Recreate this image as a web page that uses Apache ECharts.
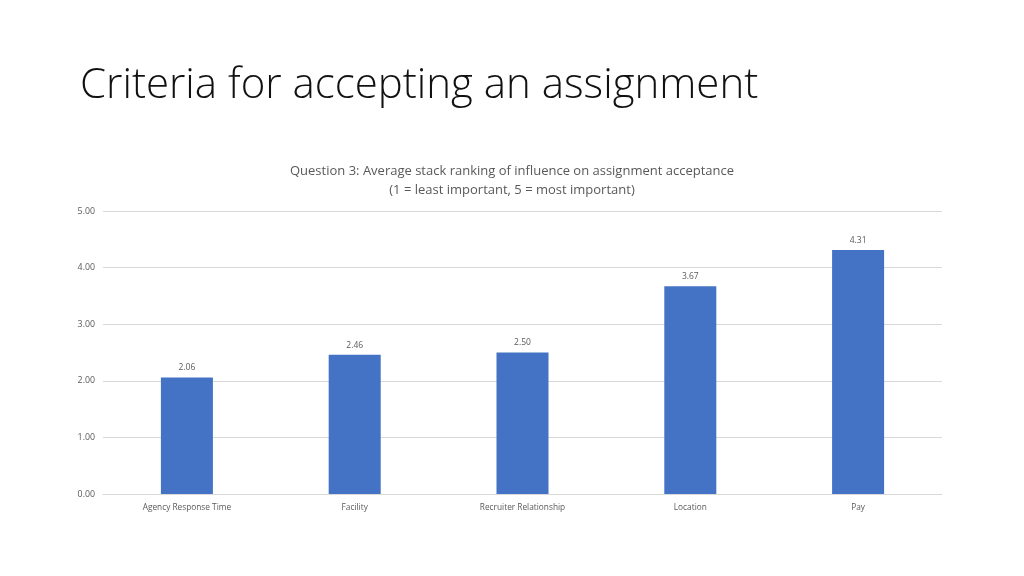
<!DOCTYPE html>
<html>
<head>
<meta charset="utf-8">
<script src="https://cdn.jsdelivr.net/npm/echarts@6/dist/echarts.min.js"></script>
<style>
    html, body { margin: 0; padding: 0; background: #ffffff; }
    #chart { width: 1024px; height: 576px; }
</style>
</head>
<body>
<div id="chart"></div>
<script>
// 分类与数值
const categories = ["Agency Response Time", "Facility", "Recruiter Relationship", "Location", "Pay"];
const averageRanks = [2.06, 2.46, 2.50, 3.67, 4.31];
const slideTitle = "Criteria for accepting an assignment";
const chartTitle = "Question 3: Average stack ranking of influence on assignment acceptance\n(1 = least important, 5 = most important)";

const chart = echarts.init(document.getElementById("chart"));
chart.setOption({
    backgroundColor: "#ffffff",
    animation: false,
    textStyle: { fontFamily: "Open Sans" },
    title: [
        {
            text: slideTitle,
            left: 75,
            top: 60,
            textStyle: { fontFamily: "Open Sans", fontWeight: 300, fontSize: 42, color: "#111111" }
        },
        {
            text: chartTitle,
            left: "center",
            top: 157,
            textStyle: { fontFamily: "Open Sans", fontWeight: "normal", fontSize: 13, lineHeight: 19, color: "#595959" }
        }
    ],
    grid: { left: 103, right: 82, top: 211, bottom: 82, containLabel: false },
    xAxis: {
        type: "category",
        data: categories,
        axisLine: { lineStyle: { color: "#d9d9d9" } },
        axisTick: { show: false },
        axisLabel: { fontSize: 8.3, color: "#595959", margin: 10 }
    },
    yAxis: {
        type: "value",
        min: 0,
        max: 5,
        interval: 1,
        axisLine: { show: false },
        axisTick: { show: false },
        splitLine: { lineStyle: { color: "#d9d9d9" } },
        axisLabel: { fontSize: 8.8, color: "#595959", margin: 8, formatter: (v) => v.toFixed(2) }
    },
    series: [{
        type: "bar",
        data: averageRanks,
        barWidth: "31%",
        itemStyle: { color: "#4472C4" },
        label: {
            show: true,
            position: "top",
            distance: 5,
            fontSize: 8.5,
            color: "#595959",
            formatter: (p) => p.value.toFixed(2)
        }
    }]
});
</script>
</body>
</html>
